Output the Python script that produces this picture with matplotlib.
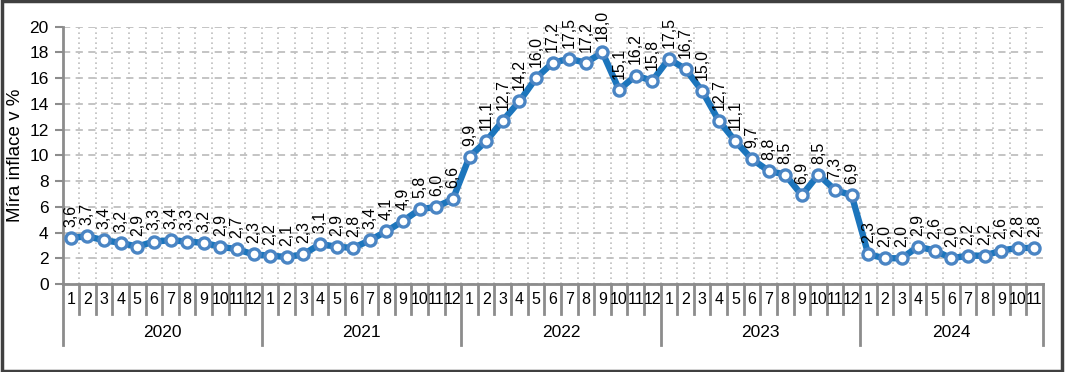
import numpy as np
import matplotlib
matplotlib.use('Agg')
import matplotlib.pyplot as plt
from matplotlib.patches import Rectangle
from matplotlib.transforms import blended_transform_factory, offset_copy

plt.rcParams['font.family'] = ['Liberation Sans', 'DejaVu Sans']

# Data: monthly inflation rate (%)
years = ['2020', '2021', '2022', '2023', '2024']
months_per_year = [12, 12, 12, 12, 11]
infl_2020 = [3.6, 3.7, 3.4, 3.2, 2.9, 3.3, 3.4, 3.3, 3.2, 2.9, 2.7, 2.3]
infl_2021 = [2.2, 2.1, 2.3, 3.1, 2.9, 2.8, 3.4, 4.1, 4.9, 5.8, 6.0, 6.6]
infl_2022 = [9.9, 11.1, 12.7, 14.2, 16.0, 17.2, 17.5, 17.2, 18.0, 15.1, 16.2, 15.8]
infl_2023 = [17.5, 16.7, 15.0, 12.7, 11.1, 9.7, 8.8, 8.5, 6.9, 8.5, 7.3, 6.9]
infl_2024 = [2.3, 2.0, 2.0, 2.9, 2.6, 2.0, 2.2, 2.2, 2.6, 2.8, 2.8]

values = infl_2020 + infl_2021 + infl_2022 + infl_2023 + infl_2024
month_labels = [str(m) for cnt in months_per_year for m in range(1, cnt + 1)]
n = len(values)
x = np.arange(n)

fig = plt.figure(figsize=(10.65, 3.72), dpi=100)
ax = fig.add_axes([0.0587, 0.2366, 0.9204, 0.6916])

line_c = '#1c75bc'
ax.plot(x, values, color=line_c, lw=4.6, marker='o', ms=8,
        mfc='white', mec='#4a85c4', mew=2.4, zorder=3, solid_joinstyle='round')

for xi, v in zip(x, values):
    ax.annotate(f'{v:.1f}'.replace('.', ','), (xi, v), xytext=(0, 8),
                textcoords='offset points', rotation=90, ha='center',
                va='bottom', fontsize=11.5, color='black')

ax.set_xlim(-0.5, n - 0.5)
ax.set_ylim(0, 20)
ax.set_yticks(range(0, 21, 2))
ax.set_xticks([])
ax.set_xticks(np.arange(0.5, n - 1, 1), minor=True)
ax.tick_params(axis='x', which='minor', length=0)
ax.tick_params(axis='y', length=6, width=1.5, color='#8c8c8c', labelsize=12.5, pad=4)
ax.grid(axis='y', which='major', color='#bfbfbf', ls=(0, (4, 3)), lw=1.3)
ax.grid(axis='x', which='minor', color='#bfbfbf', ls=(0, (1, 2)), lw=1.2)
ax.set_axisbelow(True)

for s in ['top', 'right']:
    ax.spines[s].set_visible(False)
for s in ['left', 'bottom']:
    ax.spines[s].set_color('#8c8c8c')
    ax.spines[s].set_linewidth(2)

ax.set_ylabel('Míra inflace v %', fontsize=13.5)
ax.yaxis.set_label_coords(-0.039, 0.5)

# category axis: months and years
trans = blended_transform_factory(ax.transData, ax.transAxes)
month_trans = offset_copy(trans, fig=fig, x=0, y=-16, units='dots')
year_trans = offset_copy(trans, fig=fig, x=0, y=-49, units='dots')
for xi, lab in zip(x, month_labels):
    ax.text(xi, 0, lab, transform=month_trans, ha='center', va='center', fontsize=11.5)

sep_len = 30 / (0.6916 * 372)
year_len = 61 / (0.6916 * 372)
year_edges = np.concatenate([[0], np.cumsum(months_per_year)]) - 0.5
for b in np.arange(-0.5, n, 1):
    bottom = -year_len if b in year_edges else -sep_len
    ax.plot([b, b], [0, bottom], transform=trans, color='#8c8c8c', lw=2,
            clip_on=False)
for i, yr in enumerate(years):
    mid = (year_edges[i] + year_edges[i + 1]) / 2
    ax.text(mid, 0, yr, transform=year_trans, ha='center', va='center', fontsize=12.5)

fig.patches.append(Rectangle((0.0015, 0.003), 0.996, 0.993, transform=fig.transFigure,
                             fill=False, edgecolor='#404040', lw=2.5))

fig.savefig('out.png', dpi=100)
